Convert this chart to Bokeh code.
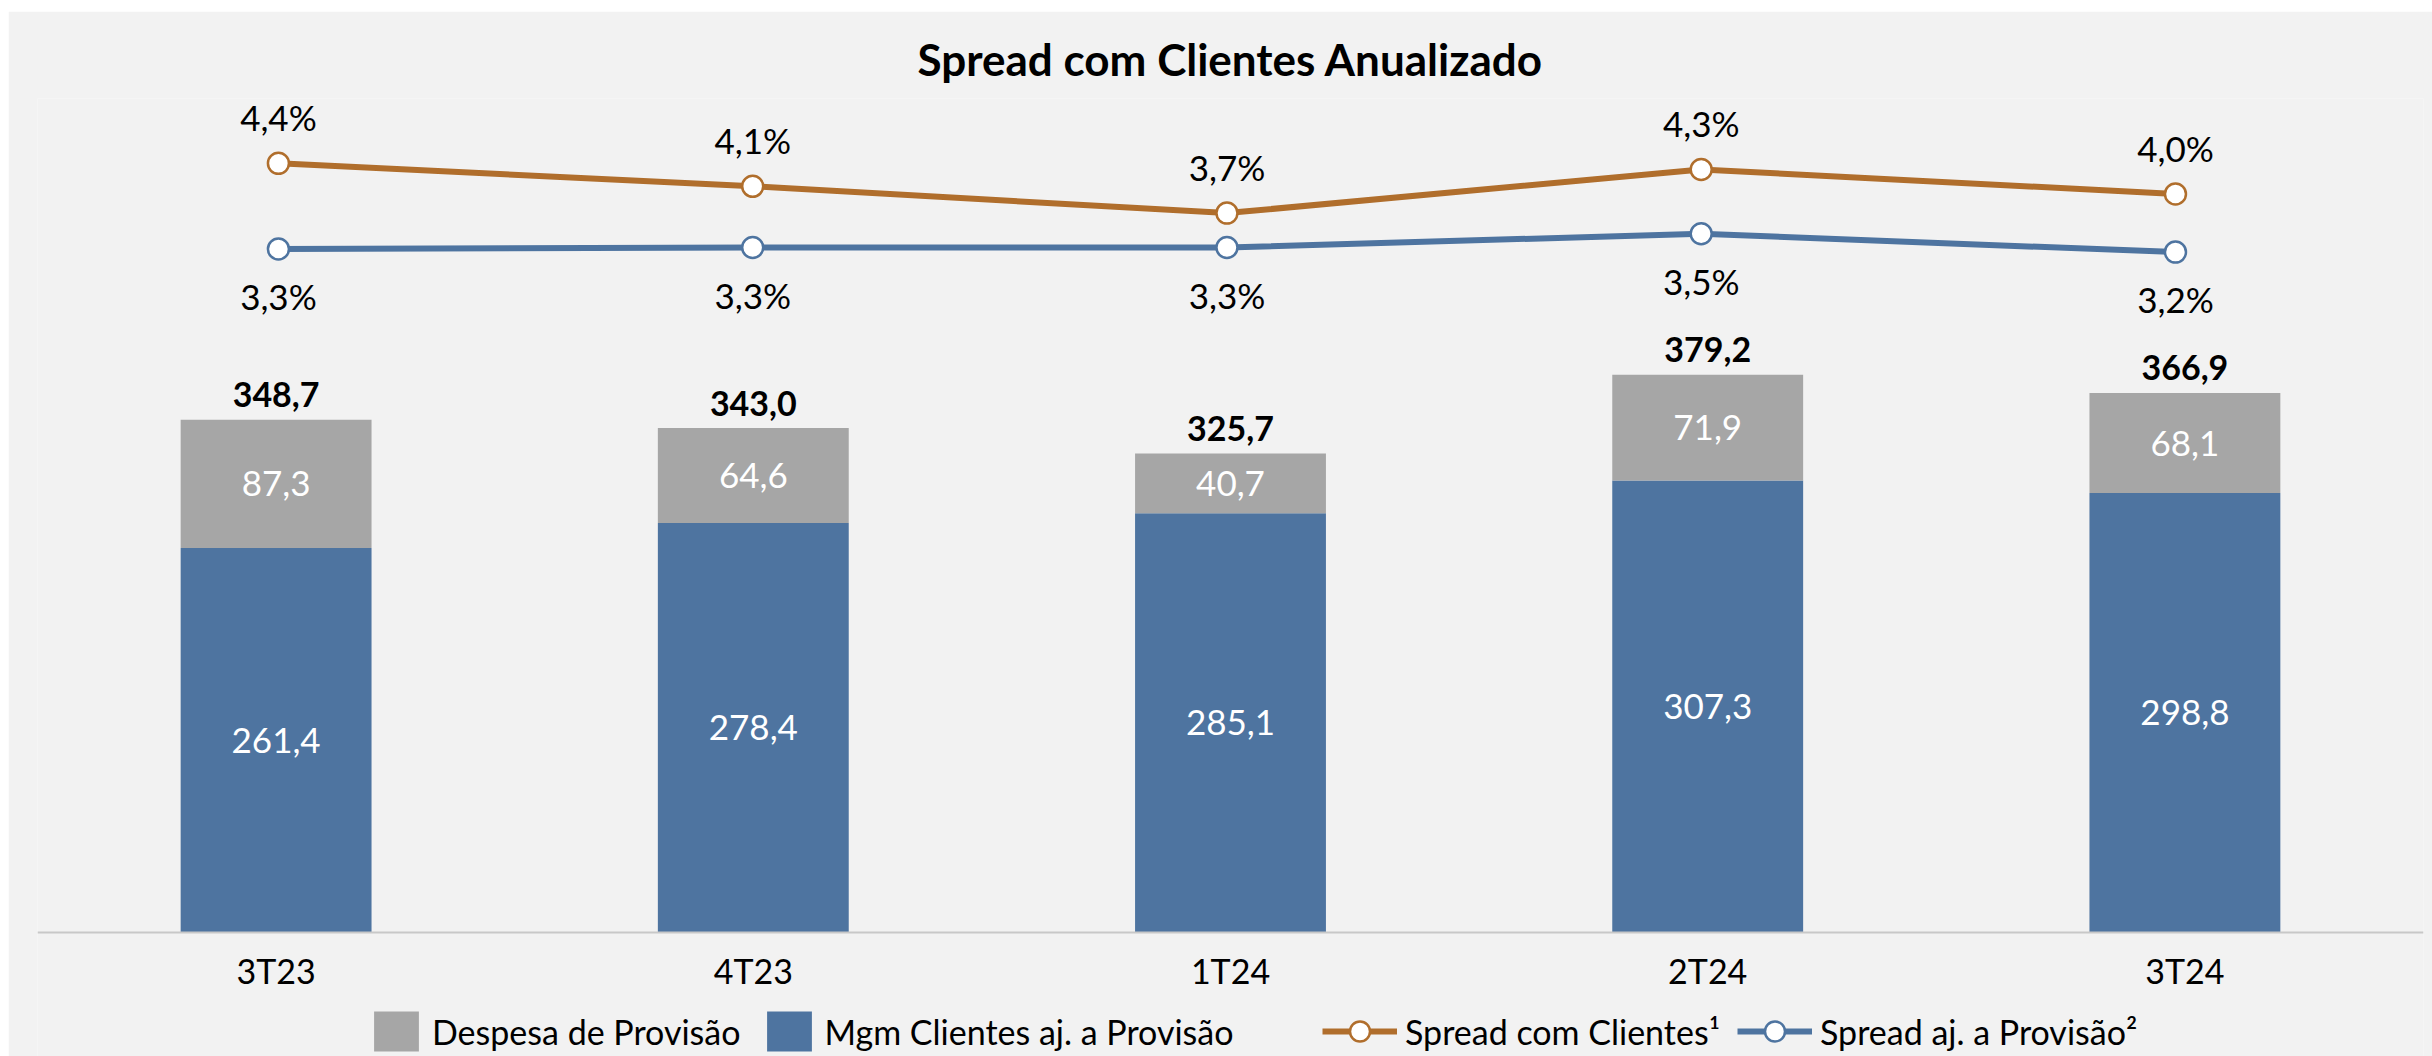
from bokeh.plotting import figure
from bokeh.layouts import column, row
from bokeh.models import (Range1d, ColumnDataSource, Legend, LegendItem, FixedTicker, Spacer)
from bokeh.core.properties import value
from bokeh.embed import file_html
from bokeh.resources import INLINE

# ---------------- data ----------------
categories = ["3T23", "4T23", "1T24", "2T24", "3T24"]
mgm_clientes = [261.4, 278.4, 285.06, 307.3, 298.8]      # Mgm Clientes aj. a Provisão
despesa_provisao = [87.3, 64.6, 40.66, 71.9, 68.1]       # Despesa de Provisão
spread_clientes = [4.39, 4.09, 3.74, 4.31, 3.99]         # Spread com Clientes (%)
spread_aj = [3.27, 3.29, 3.29, 3.47, 3.23]               # Spread aj. a Provisão (%)

title_text = "Spread com Clientes Anualizado"
legend_labels = ["Despesa de Provisão", "Mgm Clientes aj. a Provisão",
                 "Spread com Clientes¹", "Spread aj. a Provisão²"]

# ---------------- styles ----------------
BG = "#F2F2F2"
GRAY = "#A6A6A6"
BLUE = "#4E74A0"
ORANGE = "#B06E2C"
FONT = "Lato"
LBL = "35px"


def fmt(v, pct=False):
    s = f"{v:.1f}".replace(".", ",")
    return s + "%" if pct else s


idx = list(range(len(categories)))
totals = [m + d for m, d in zip(mgm_clientes, despesa_provisao)]
bar_src = ColumnDataSource(dict(
    x=idx,
    mgm=mgm_clientes,
    total=totals,
    mgm_mid=[m / 2 for m in mgm_clientes],
    desp_mid=[m + d / 2 for m, d in zip(mgm_clientes, despesa_provisao)],
    mgm_lbl=[fmt(v) for v in mgm_clientes],
    desp_lbl=[fmt(v) for v in despesa_provisao],
    tot_lbl=[fmt(v) for v in totals],
))

line_src = ColumnDataSource(dict(
    x=idx,
    sc=spread_clientes,
    sa=spread_aj,
    sc_lbl=[fmt(v, True) for v in spread_clientes],
    sa_lbl=[fmt(v, True) for v in spread_aj],
))

W, H = 2424, 1045
p = figure(width=W, height=H, x_range=Range1d(-0.5, len(categories) - 0.5),
           y_range=Range1d(-84.3, 567.1), y_axis_location=None,
           output_backend="svg", toolbar_location=None, title=title_text,
           min_border_left=29, min_border_right=9, min_border_top=87,
           min_border_bottom=0)
p.extra_x_ranges = {"lx": Range1d(-0.508, 4.523)}
p.extra_y_ranges = {"pct": Range1d(-7.285, 5.238)}

p.background_fill_color = BG
p.border_fill_color = BG
p.outline_line_color = None
p.grid.visible = False

p.title.align = "center"
p.title.text_font = FONT
p.title.text_font_size = "44px"
p.title.text_font_style = "bold"
p.title.text_color = "black"
p.title.standoff = 28

ax = p.xaxis[0]
ax.fixed_location = 0
ax.ticker = FixedTicker(ticks=idx)
ax.major_label_overrides = {i: c for i, c in zip(idx, categories)}
ax.axis_line_color = "#C8C8C8"
ax.axis_line_width = 2
ax.major_tick_line_color = None
ax.minor_tick_line_color = None
ax.major_label_text_font = FONT
ax.major_label_text_font_size = "34px"
ax.major_label_text_color = "black"
ax.major_label_standoff = 11

# bars
r_mgm = p.vbar(x="x", bottom=0, top="mgm", width=0.4, source=bar_src,
               fill_color=BLUE, line_color=None)
r_desp = p.vbar(x="x", bottom="mgm", top="total", width=0.4, source=bar_src,
                fill_color=GRAY, line_color=None)

p.text(x="x", y="mgm_mid", text="mgm_lbl", source=bar_src, text_color="white",
       text_font=value(FONT), text_font_size=LBL, text_align="center",
       text_baseline="middle")
p.text(x="x", y="desp_mid", text="desp_lbl", source=bar_src, text_color="white",
       text_font=value(FONT), text_font_size=LBL, text_align="center",
       text_baseline="middle")
p.text(x="x", y="total", text="tot_lbl", source=bar_src, text_color="black",
       text_font=value(FONT), text_font_size="34px", text_font_style="bold",
       text_align="center", text_baseline="middle", y_offset=-25)

# lines
l_sc = p.line(x="x", y="sc", source=line_src, line_color=ORANGE, line_width=6,
              x_range_name="lx", y_range_name="pct")
m_sc = p.scatter(x="x", y="sc", source=line_src, size=21, fill_color="white",
                 line_color=ORANGE, line_width=2.5, x_range_name="lx", y_range_name="pct")
l_sa = p.line(x="x", y="sa", source=line_src, line_color=BLUE, line_width=6,
              x_range_name="lx", y_range_name="pct")
m_sa = p.scatter(x="x", y="sa", source=line_src, size=21, fill_color="white",
                 line_color=BLUE, line_width=2.5, x_range_name="lx", y_range_name="pct")

p.text(x="x", y="sc", text="sc_lbl", source=line_src, text_color="black",
       text_font=value(FONT), text_font_size=LBL, text_align="center",
       text_baseline="middle", y_offset=-46, x_range_name="lx", y_range_name="pct")
p.text(x="x", y="sa", text="sa_lbl", source=line_src, text_color="black",
       text_font=value(FONT), text_font_size=LBL, text_align="center",
       text_baseline="middle", y_offset=47, x_range_name="lx", y_range_name="pct")

# legends
def make_legend(items, loc, gw, spacing):
    lg = Legend(items=items, orientation="horizontal", location=loc,
                glyph_width=gw, glyph_height=50, label_text_font=FONT,
                label_text_font_size="34px", label_text_color="black",
                label_standoff=8, spacing=spacing, padding=0, margin=0,
                border_line_color=None, background_fill_alpha=0)
    return lg

lg1 = make_legend([LegendItem(label=legend_labels[0], renderers=[r_desp]),
                   LegendItem(label=legend_labels[1], renderers=[r_mgm])],
                  (331, 0), 56, 20)
lg2 = make_legend([LegendItem(label=legend_labels[2], renderers=[l_sc, m_sc]),
                   LegendItem(label=legend_labels[3], renderers=[l_sa, m_sa])],
                  (1285, 0), 75, 17)
p.add_layout(lg1)
p.add_layout(lg2)

page = column(Spacer(height=11, width=2432),
              row(Spacer(width=8, height=H), p, spacing=0), spacing=0)

open("out.html", "w").write(file_html(page, INLINE))
